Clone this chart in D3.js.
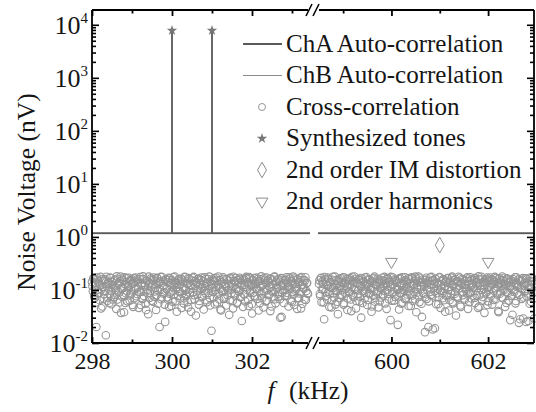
<!DOCTYPE html>
<html>
<head>
<meta charset="utf-8">
<script src="https://cdn.jsdelivr.net/npm/d3@7.9.0/dist/d3.min.js"></script>
<style>
  body { margin: 0; background: #fff; }
  svg { display: block; }
  svg text { font-family: 'Liberation Serif', serif; }
</style>
</head>
<body>
<svg id="chart" width="536" height="412"></svg>
<script>
// Cross-correlation noise floor, in pV; A = even bins, B = odd bins
const crossLeftA = [
  142, 95, 168, 71, 120, 20, 155, 88, 131, 64, 176, 102, 49, 147, 83, 160, 14, 118, 72, 139, 57, 171, 96, 125, 66,
  150, 81, 110, 44, 163, 92, 136, 58, 178, 105, 74, 152, 38, 129, 87, 167, 61, 114, 145, 79, 99, 158, 52, 133, 70,
  172, 108, 84, 141, 46, 161, 93, 124, 68, 180, 77, 117, 55, 149, 101, 35, 137, 89, 165, 63, 127, 154, 75, 112, 42,
  169, 98, 132, 20, 146, 67, 175, 86, 121, 53, 157, 104, 73, 140, 48, 166, 91, 116, 60, 173, 82, 135, 109, 39, 151,
  94, 126, 69, 162, 85, 143, 56, 177, 100, 78, 130, 47, 159, 90, 119, 65, 170, 106, 80, 148, 33, 138, 97, 164, 62,
  122, 153, 76, 111, 43, 174, 87, 134, 59, 160, 103, 71, 144, 17, 128, 92, 167, 54, 115, 150, 83, 179, 66, 107, 41,
  139, 95, 163, 72, 120, 51, 156, 99, 131, 64, 171, 88, 113, 45, 147, 79, 168, 105, 58, 136, 93, 161, 74, 26, 152,
  84, 125, 61, 176, 101, 141, 50, 165, 90, 118, 36, 155, 77, 132, 108, 172, 68, 144, 96, 57, 159, 86, 123, 47, 170,
  102, 137, 63, 149, 81, 114, 40, 162, 94, 128, 73, 178, 56, 142, 110, 85, 157, 67, 121, 31, 166, 98, 135, 76, 153,
  89, 117, 49, 173, 104, 146, 60, 129, 82, 164, 97, 112, 44, 158, 70, 140, 91, 175, 55, 126, 106, 150, 65, 134, 87
];
const crossLeftB = [
  118, 164, 79, 137, 58, 172, 101, 145, 88, 126, 45, 160, 113, 69, 151, 96, 177, 62, 134, 107, 83, 168, 54, 141, 119,
  74, 156, 99, 180, 66, 128, 90, 147, 37, 162, 109, 81, 174, 57, 139, 95, 121, 170, 63, 153, 86, 130, 48, 166, 104,
  143, 76, 159, 115, 92, 175, 52, 136, 68, 161, 98, 124, 42, 149, 87, 178, 71, 133, 111, 157, 60, 171, 94, 127, 80,
  165, 55, 142, 102, 176, 73, 120, 148, 89, 25, 158, 106, 66, 169, 85, 135, 50, 152, 97, 124, 179, 61, 138, 114, 77,
  163, 93, 131, 46, 155, 108, 70, 173, 84, 144, 59, 167, 100, 125, 39, 150, 90, 176, 67, 122, 140, 82, 160, 53, 133,
  105, 171, 75, 146, 96, 118, 162, 64, 137, 88, 178, 51, 127, 110, 156, 72, 145, 99, 169, 58, 123, 86, 154, 43, 139,
  92, 174, 68, 131, 115, 160, 80, 149, 34, 165, 101, 128, 62, 177, 87, 142, 106, 56, 153, 95, 170, 73, 136, 119, 48,
  158, 83, 166, 111, 140, 65, 175, 97, 124, 54, 151, 89, 168, 76, 132, 103, 161, 41, 147, 117, 180, 70, 128, 91, 155,
  61, 172, 99, 138, 82, 164, 113, 49, 150, 94, 176, 67, 126, 108, 159, 75, 143, 30, 167, 88, 121, 57, 152, 100, 173,
  79, 135, 116, 162, 63, 147, 92, 178, 52, 129, 104, 157, 71, 141, 86, 169, 45, 125, 110, 154, 66, 174, 96, 137, 84
];
const crossRightA = [
  131, 84, 166, 59, 145, 102, 28, 158, 76, 122, 171, 93, 48, 139, 110, 64, 177, 87, 126, 53, 150, 98, 35, 162, 71,
  118, 143, 80, 174, 57, 134, 105, 160, 42, 127, 91, 168, 66, 113, 148, 74, 179, 100, 45, 137, 85, 155, 61, 121, 30,
  164, 96, 141, 69, 116, 175, 52, 130, 88, 157, 104, 39, 146, 78, 170, 60, 124, 94, 163, 47, 138, 109, 72, 152, 83,
  119, 176, 56, 133, 99, 161, 67, 144, 27, 128, 90, 172, 63, 111, 153, 79, 136, 101, 43, 167, 86, 125, 58, 149, 97,
  173, 70, 140, 107, 50, 159, 82, 120, 165, 62, 132, 92, 178, 38, 115, 147, 75, 169, 103, 55, 142, 89, 123, 16, 156,
  68, 135, 20, 112, 171, 81, 150, 18, 129, 95, 163, 54, 138, 106, 73, 175, 46, 126, 87, 158, 64, 117, 144, 77, 166,
  100, 41, 139, 84, 170, 59, 121, 152, 93, 33, 145, 71, 177, 108, 51, 131, 160, 80, 114, 65, 148, 96, 174, 44, 127,
  88, 154, 69, 136, 112, 167, 57, 141, 79, 119, 180, 49, 134, 101, 162, 74, 124, 37, 150, 91, 172, 61, 110, 146, 83,
  158, 53, 129, 97, 176, 66, 143, 115, 40, 165, 85, 137, 72, 153, 104, 169, 48, 122, 92, 157, 63, 140, 27, 118, 78,
  161, 99, 133, 56, 173, 86, 125, 24, 147, 108, 68, 155, 29, 120, 94, 166, 76, 138, 26, 111, 149, 60, 171, 89, 130
];
const crossRightB = [
  152, 77, 169, 103, 130, 58, 175, 91, 143, 66, 120, 161, 84, 138, 47, 156, 109, 72, 178, 95, 126, 60, 148, 117, 81,
  166, 99, 134, 53, 171, 87, 145, 112, 69, 159, 93, 124, 40, 177, 80, 140, 105, 163, 62, 131, 98, 154, 75, 168, 114,
  57, 146, 89, 172, 101, 127, 65, 158, 83, 136, 110, 49, 164, 94, 179, 71, 123, 142, 86, 155, 61, 132, 107, 170, 78,
  149, 97, 124, 44, 167, 85, 139, 113, 176, 63, 128, 92, 157, 74, 145, 104, 22, 160, 88, 133, 55, 173, 100, 121, 68,
  151, 116, 82, 165, 95, 137, 50, 174, 79, 126, 148, 67, 162, 106, 90, 179, 59, 141, 118, 31, 157, 84, 130, 73, 169,
  102, 144, 61, 127, 93, 176, 76, 152, 110, 19, 163, 87, 135, 54, 171, 98, 122, 146, 70, 158, 105, 39, 140, 81, 167,
  114, 64, 149, 96, 178, 56, 131, 85, 160, 108, 75, 142, 120, 170, 48, 137, 92, 155, 69, 125, 103, 164, 83, 146, 59,
  174, 90, 128, 112, 153, 71, 166, 97, 139, 46, 158, 80, 121, 177, 63, 143, 106, 134, 87, 161, 52, 150, 99, 172, 76,
  126, 155, 65, 141, 108, 168, 82, 133, 38, 162, 94, 119, 179, 70, 147, 101, 129, 57, 165, 88, 138, 111, 154, 77, 34,
  144, 92, 173, 62, 130, 115, 158, 81, 28, 150, 104, 167, 72, 136, 97, 25, 161, 86, 124, 55, 171, 109, 142, 68, 29
];
// frequency span covered by each block of bins (kHz)
const crossSpanLeft = [298.0, 303.4];
const crossSpanRight = [598.5, 602.95];

// auto-correlation traces (kHz, nV)
const autoFreqLeft = [298, 300, 300, 300, 301, 301, 301, 303.45];
const chAValuesLeft = [1.18, 1.18, 7800, 1.18, 1.18, 7800, 1.18, 1.18];
const chBValuesLeft = [1.15, 1.15, 7800, 1.15, 1.15, 7800, 1.15, 1.15];
const autoFreqRight = [598.48, 602.95];
const chAValuesRight = [1.18, 1.18];
const chBValuesRight = [1.15, 1.15];

// marked peaks
const toneFreqs = [300, 301];
const toneValues = [7800, 7800];
const imFreqs = [601];
const imValues = [0.7];
const harmFreqs = [600, 602];
const harmValues = [0.34, 0.34];

// axis ticks
const xMajorLeft = [298, 300, 302];
const xMinorLeft = [299, 301, 303];
const xMajorRight = [600, 602];
const xMinorRight = [599, 601];
const yDecades = [-2, -1, 0, 1, 2, 3, 4];

const legendItems = [
  { label: 'ChA Auto-correlation', type: 'lineA' },
  { label: 'ChB Auto-correlation', type: 'lineB' },
  { label: 'Cross-correlation', type: 'circle' },
  { label: 'Synthesized tones', type: 'star' },
  { label: '2nd order IM distortion', type: 'diamond' },
  { label: '2nd order harmonics', type: 'triangle' }
];

const serif = "'Liberation Serif', serif";
const svg = d3.select('#chart').attr('font-family', serif);
const plotTop = 10, plotBottom = 343, plotLeft = 92, plotRight = 534;
const breakX = 313;
const ink = '#151515';

const xL = d3.scaleLinear().domain([298, 303.45]).range([plotLeft, 310]);
const xR = d3.scaleLinear().domain([598.48, 602.95]).range([318, plotRight]);
const y = d3.scaleLog().domain([0.01, 19000]).range([plotBottom, plotTop]);

const ringColor = '#949494';
const markColor = '#8c8c8c';

// cross-correlation cloud
function drawCloud(evenBins, oddBins, span, x) {
  const values = d3.zip(evenBins, oddBins).flat();
  const step = (span[1] - span[0]) / (values.length - 1);
  svg.append('g')
    .selectAll('circle')
    .data(values)
    .join('circle')
    .attr('cx', (d, i) => x(span[0] + i * step))
    .attr('cy', (d) => y(d / 1000))
    .attr('r', 3.8)
    .attr('fill', 'none')
    .attr('stroke', ringColor)
    .attr('stroke-width', 1.05);
}
drawCloud(crossLeftA, crossLeftB, crossSpanLeft, xL);
drawCloud(crossRightA, crossRightB, crossSpanRight, xR);

// auto-correlation lines
function drawTrace(freqs, values, x, color, width) {
  const line = d3.line().x((d) => x(d[0])).y((d) => y(d[1]));
  svg.append('path')
    .datum(d3.zip(freqs, values))
    .attr('d', line)
    .attr('fill', 'none')
    .attr('stroke', color)
    .attr('stroke-width', width);
}
drawTrace(autoFreqLeft, chBValuesLeft, xL, '#8a8a8a', 1);
drawTrace(autoFreqRight, chBValuesRight, xR, '#8a8a8a', 1);
drawTrace(autoFreqLeft, chAValuesLeft, xL, '#5a5a5a', 1.6);
drawTrace(autoFreqRight, chAValuesRight, xR, '#5a5a5a', 1.6);

// markers
const star = d3.symbol().type(d3.symbolStar).size(34);
const diamond = d3.symbol().type(d3.symbolDiamond).size(70);
const triangle = d3.symbol().type(d3.symbolTriangle).size(60);

svg.append('g').selectAll('path')
  .data(d3.zip(toneFreqs, toneValues))
  .join('path')
  .attr('d', star)
  .attr('transform', (d) => `translate(${xL(d[0])},${y(d[1])})`)
  .attr('fill', '#777');

svg.append('g').selectAll('path')
  .data(d3.zip(imFreqs, imValues))
  .join('path')
  .attr('d', diamond)
  .attr('transform', (d) => `translate(${xR(d[0])},${y(d[1])})`)
  .attr('fill', 'none')
  .attr('stroke', markColor);

svg.append('g').selectAll('path')
  .data(d3.zip(harmFreqs, harmValues))
  .join('path')
  .attr('d', triangle)
  .attr('transform', (d) => `translate(${xR(d[0])},${y(d[1])}) rotate(180)`)
  .attr('fill', 'none')
  .attr('stroke', markColor);

// frame
const frame = svg.append('g').attr('stroke', '#000').attr('stroke-width', 1.8);
frame.append('line').attr('x1', plotLeft).attr('x2', plotLeft).attr('y1', plotTop).attr('y2', plotBottom);
frame.append('line').attr('x1', plotRight).attr('x2', plotRight).attr('y1', plotTop).attr('y2', plotBottom);
[plotTop, plotBottom].forEach((yy) => {
  frame.append('line').attr('x1', plotLeft).attr('x2', breakX - 5).attr('y1', yy).attr('y2', yy);
  frame.append('line').attr('x1', breakX + 6).attr('x2', plotRight).attr('y1', yy).attr('y2', yy);
  frame.append('line').attr('x1', breakX - 7).attr('x2', breakX - 1).attr('y1', yy + 6).attr('y2', yy - 6).attr('stroke-width', 1.5);
  frame.append('line').attr('x1', breakX).attr('x2', breakX + 6).attr('y1', yy + 6).attr('y2', yy - 6).attr('stroke-width', 1.5);
});

// x ticks (inward on bottom and top)
function xTicks(x, values, size, labels) {
  const b = svg.append('g').attr('transform', `translate(0,${plotBottom})`)
    .call(d3.axisBottom(x).tickValues(values).tickSize(-size)
      .tickFormat(labels ? d3.format('d') : ''));
  const t = svg.append('g').attr('transform', `translate(0,${plotTop})`)
    .call(d3.axisTop(x).tickValues(values).tickSize(-size).tickFormat(''));
  [b, t].forEach((g) => {
    g.attr('font-family', serif);
    g.select('.domain').remove();
    g.selectAll('line').attr('stroke', '#000').attr('stroke-width', 1.8);
  });
  b.selectAll('text')
    .attr('font-size', 24)
    .attr('fill', ink)
    .attr('dy', '0.71em')
    .attr('y', 9);
}
xTicks(xL, xMajorLeft, 6, true);
xTicks(xL, xMinorLeft, 3.5, false);
xTicks(xR, xMajorRight, 6, true);
xTicks(xR, xMinorRight, 3.5, false);

// y ticks (log decades + minors, inward on both sides)
const yMajor = yDecades.map((e) => Math.pow(10, e));
const yMinor = [];
yDecades.slice(0, -1).forEach((e) => {
  for (let k = 2; k <= 9; k++) yMinor.push(k * Math.pow(10, e));
});
function yTicks(values, size) {
  const l = svg.append('g').attr('transform', `translate(${plotLeft},0)`)
    .call(d3.axisLeft(y).tickValues(values).tickSize(-size).tickFormat(''));
  const r = svg.append('g').attr('transform', `translate(${plotRight},0)`)
    .call(d3.axisRight(y).tickValues(values).tickSize(-size).tickFormat(''));
  [l, r].forEach((g) => {
    g.select('.domain').remove();
    g.selectAll('line').attr('stroke', '#000').attr('stroke-width', 1.6);
  });
}
yTicks(yMajor, 7);
yTicks(yMinor, 4);

// y tick labels 10^n
const yLab = svg.append('g').attr('fill', ink);
yDecades.forEach((e) => {
  const t = yLab.append('text')
    .attr('x', plotLeft - 4)
    .attr('y', y(Math.pow(10, e)) + 9)
    .attr('text-anchor', 'end')
    .attr('font-size', 26);
  t.append('tspan').text('10');
  t.append('tspan').attr('font-size', 15).attr('dy', -11).text(String(e));
});

// axis titles
svg.append('text')
  .attr('transform', 'translate(35,192) rotate(-90)')
  .attr('text-anchor', 'middle')
  .attr('font-size', 25.5)
  .attr('fill', ink)
  .text('Noise Voltage (nV)');

const xt = svg.append('text')
  .attr('x', 308)
  .attr('y', 399)
  .attr('text-anchor', 'middle')
  .attr('font-size', 25.5)
  .attr('fill', ink);
xt.append('tspan').attr('font-style', 'italic').text('f');
xt.append('tspan').attr('dx', 8).text('\u00a0(kHz)');

// legend
const legend = svg.append('g');
legendItems.forEach((item, i) => {
  const ly = 44 + i * 31.5;
  const g = legend.append('g').attr('transform', `translate(0,${ly})`);
  if (item.type === 'lineA' || item.type === 'lineB') {
    g.append('line')
      .attr('x1', 243).attr('x2', 282)
      .attr('stroke', item.type === 'lineA' ? '#5a5a5a' : '#8a8a8a')
      .attr('stroke-width', item.type === 'lineA' ? 2 : 1.2);
  } else if (item.type === 'circle') {
    g.append('circle').attr('cx', 262).attr('r', 3.5)
      .attr('fill', 'none').attr('stroke', ringColor);
  } else if (item.type === 'star') {
    g.append('path').attr('d', star).attr('transform', 'translate(262,0)').attr('fill', '#777');
  } else if (item.type === 'diamond') {
    g.append('path').attr('d', diamond).attr('transform', 'translate(262,0)')
      .attr('fill', 'none').attr('stroke', markColor);
  } else {
    g.append('path').attr('d', triangle).attr('transform', 'translate(262,0) rotate(180)')
      .attr('fill', 'none').attr('stroke', markColor);
  }
  g.append('text')
    .attr('x', 286)
    .attr('y', 7.5)
    .attr('font-size', 25)
    .attr('fill', ink)
    .text(item.label);
});
</script>
</body>
</html>
